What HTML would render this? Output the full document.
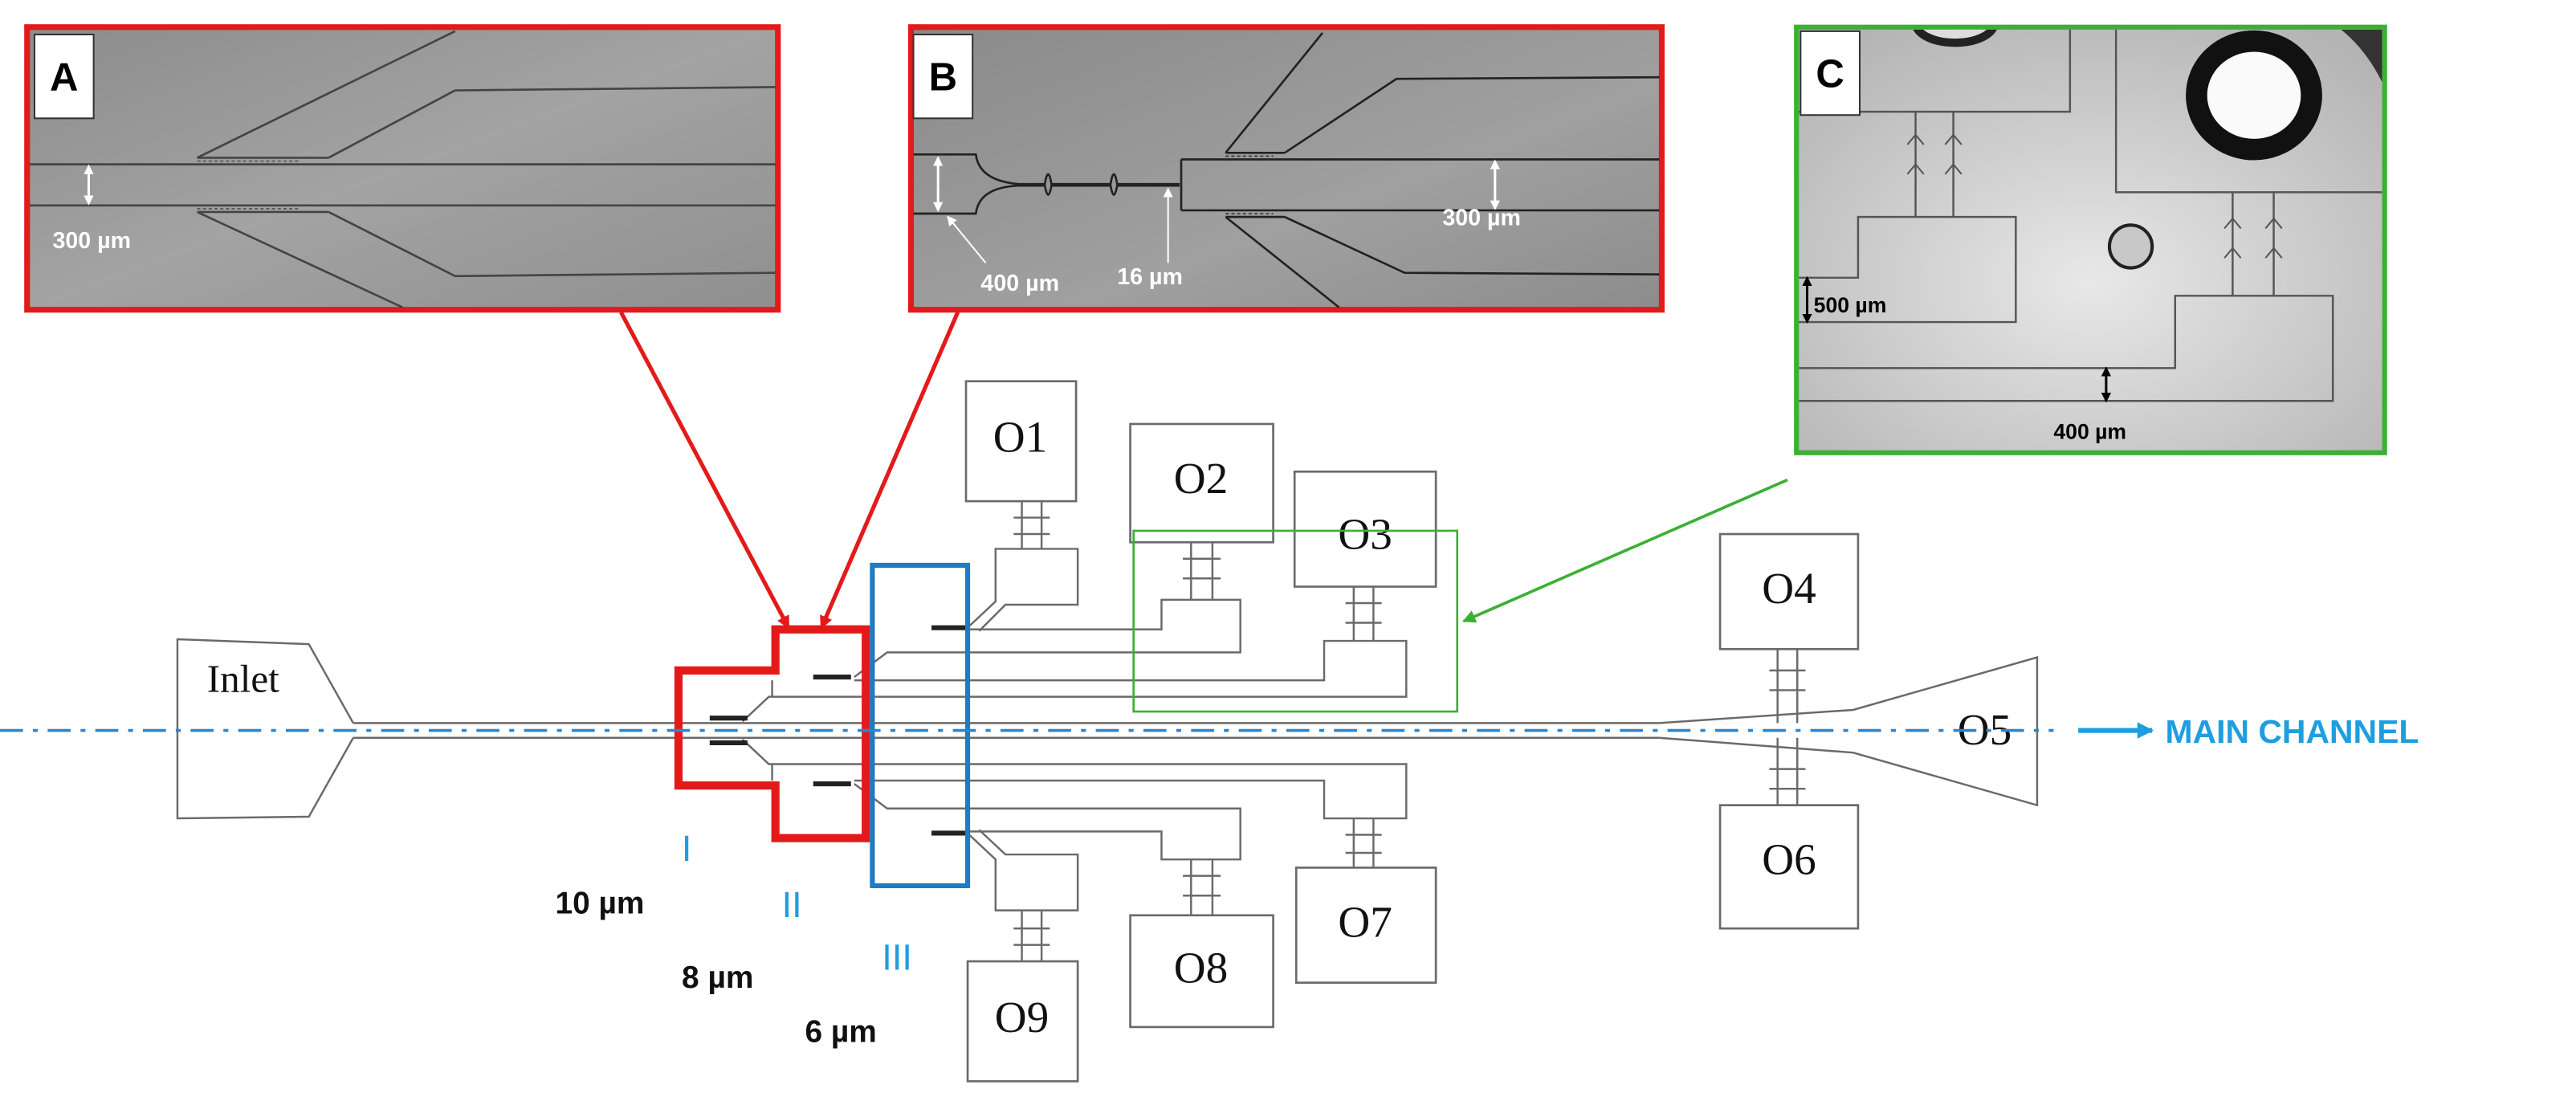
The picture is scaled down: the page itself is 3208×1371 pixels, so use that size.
<!DOCTYPE html>
<html><head><meta charset="utf-8"><style>
html,body{margin:0;padding:0;background:#fff;}
svg{display:block;}
</style></head><body>
<svg width="3208" height="1371" viewBox="0 0 1568 670" preserveAspectRatio="none" xmlns="http://www.w3.org/2000/svg">
<defs>
<linearGradient id="ga" x1="0" y1="0" x2="1" y2="1"><stop offset="0" stop-color="#8c8c8c"/><stop offset="0.5" stop-color="#a3a3a3"/><stop offset="1" stop-color="#8f8f8f"/></linearGradient>
<linearGradient id="gb" x1="0" y1="0" x2="1" y2="1"><stop offset="0" stop-color="#8a8a8a"/><stop offset="0.6" stop-color="#a0a0a0"/><stop offset="1" stop-color="#8c8c8c"/></linearGradient>
<radialGradient id="gc" cx="0.5" cy="0.6" r="0.7"><stop offset="0" stop-color="#e8e8e8"/><stop offset="1" stop-color="#b4b4b4"/></radialGradient>
<clipPath id="cc"><rect x="1095" y="18" width="355" height="256"/></clipPath>
<marker id="ar" markerWidth="8" markerHeight="8" refX="7" refY="4" orient="auto" markerUnits="userSpaceOnUse"><path d="M0,0 L8,4 L0,8 Z" fill="#e41a1a"/></marker>
<marker id="agn" markerWidth="8" markerHeight="8" refX="7" refY="4" orient="auto" markerUnits="userSpaceOnUse"><path d="M0,0 L8,4 L0,8 Z" fill="#3cb034"/></marker>
<marker id="aw" markerWidth="6" markerHeight="6" refX="5" refY="3" orient="auto" markerUnits="userSpaceOnUse"><path d="M0,0 L6,3 L0,6 Z" fill="#fff"/></marker>
<marker id="ak" markerWidth="6" markerHeight="6" refX="5" refY="3" orient="auto" markerUnits="userSpaceOnUse"><path d="M0,0 L6,3 L0,6 Z" fill="#000"/></marker>
<marker id="abl" markerWidth="10" markerHeight="10" refX="9" refY="5" orient="auto" markerUnits="userSpaceOnUse"><path d="M0,0 L10,5 L0,10 Z" fill="#1e9ee0"/></marker>
</defs>

<!-- Panel A -->
<rect x="16.5" y="16.5" width="457" height="172" fill="url(#ga)" stroke="#e41a1a" stroke-width="3.5"/>
<g stroke="#444" stroke-width="1.3" fill="none">
<line x1="18" y1="100" x2="472" y2="100"/><line x1="18" y1="125" x2="472" y2="125"/>
<polyline points="120,96 277,19"/><polyline points="200,96 277,55 472,53"/>
<polyline points="120,129 245,187"/><polyline points="200,129 277,168 472,166"/>
<line x1="120" y1="96" x2="200" y2="96"/><line x1="120" y1="129" x2="200" y2="129"/>
</g>
<g stroke="#555" stroke-width="0.8" stroke-dasharray="2,1.5"><line x1="120" y1="98" x2="183" y2="98"/><line x1="120" y1="127" x2="183" y2="127"/></g>
<line x1="54" y1="113" x2="54" y2="101" stroke="#fff" stroke-width="1.5" marker-end="url(#aw)"/>
<line x1="54" y1="112" x2="54" y2="124" stroke="#fff" stroke-width="1.5" marker-end="url(#aw)"/>
<text x="32" y="151" font-family="Liberation Sans, sans-serif" font-weight="bold" font-size="14" fill="#fff">300 µm</text>
<rect x="21" y="21" width="36" height="51" fill="#fff" stroke="#333" stroke-width="1"/>
<text x="39" y="55" text-anchor="middle" font-family="Liberation Sans, sans-serif" font-weight="bold" font-size="24">A</text>

<!-- Panel B -->
<rect x="554.5" y="16.5" width="457" height="172" fill="url(#gb)" stroke="#e41a1a" stroke-width="3.5"/>
<g stroke="#222" stroke-width="1.3" fill="none">
<path d="M556,94 L594,94 Q596,110 620,112 L636,112 Q638,100 640,112 L676,112 Q678,100 680,112 L718,112"/>
<path d="M556,130 L594,130 Q596,114 620,113 L636,113 Q638,124 640,113 L676,113 Q678,124 680,113 L718,113"/>
<line x1="719" y1="97" x2="719" y2="128"/>
<line x1="719" y1="97" x2="1010" y2="97"/><line x1="719" y1="128" x2="1010" y2="128"/>
<polyline points="746,93 805,20"/><polyline points="782,93 850,48 1010,47"/>
<polyline points="746,132 815,187"/><polyline points="782,132 855,166 1010,167"/>
<line x1="746" y1="93" x2="782" y2="93"/><line x1="746" y1="132" x2="782" y2="132"/>
</g>
<g stroke="#333" stroke-width="0.8" stroke-dasharray="2,1.5"><line x1="746" y1="95" x2="775" y2="95"/><line x1="746" y1="130" x2="775" y2="130"/></g>
<line x1="571" y1="112" x2="571" y2="96" stroke="#fff" stroke-width="1.5" marker-end="url(#aw)"/>
<line x1="571" y1="112" x2="571" y2="128" stroke="#fff" stroke-width="1.5" marker-end="url(#aw)"/>
<line x1="600" y1="160" x2="577" y2="132" stroke="#fff" stroke-width="1" marker-end="url(#aw)"/>
<line x1="711" y1="160" x2="711" y2="115" stroke="#fff" stroke-width="1" marker-end="url(#aw)"/>
<line x1="910" y1="112" x2="910" y2="98" stroke="#fff" stroke-width="1.5" marker-end="url(#aw)"/>
<line x1="910" y1="112" x2="910" y2="127" stroke="#fff" stroke-width="1.5" marker-end="url(#aw)"/>
<text x="597" y="177" font-family="Liberation Sans, sans-serif" font-weight="bold" font-size="14" fill="#fff">400 µm</text>
<text x="680" y="173" font-family="Liberation Sans, sans-serif" font-weight="bold" font-size="14" fill="#fff">16 µm</text>
<text x="878" y="137" font-family="Liberation Sans, sans-serif" font-weight="bold" font-size="14" fill="#fff">300 µm</text>
<rect x="556" y="21" width="36" height="51" fill="#fff" stroke="#333" stroke-width="1"/>
<text x="574" y="55" text-anchor="middle" font-family="Liberation Sans, sans-serif" font-weight="bold" font-size="24">B</text>

<!-- Panel C -->
<rect x="1093.5" y="16.5" width="358" height="259" fill="url(#gc)" stroke="#3cb034" stroke-width="3"/>
<g clip-path="url(#cc)">
<ellipse cx="1190" cy="14" rx="24" ry="12" fill="#ddd" stroke="#222" stroke-width="5"/>
<ellipse cx="1372" cy="58" rx="35" ry="33" fill="#fafafa" stroke="#111" stroke-width="13"/>
<path d="M1425,18 L1450,18 L1450,50 Q1440,30 1425,18 Z" fill="#333"/>
</g>
<ellipse cx="1297" cy="150" rx="13" ry="13" fill="#c8c8c8" stroke="#222" stroke-width="2"/>
<g stroke="#555" stroke-width="1.2" fill="none">
<polyline points="1095,68 1260,68 1260,18"/>
<polyline points="1288,18 1288,117 1450,117"/>
<polyline points="1095,169 1131,169 1131,132 1227,132 1227,196 1095,196"/>
<polyline points="1095,224 1324,224 1324,180 1420,180 1420,244 1095,244"/>
<line x1="1166" y1="68" x2="1166" y2="132"/><line x1="1189" y1="68" x2="1189" y2="132"/>
<line x1="1359" y1="117" x2="1359" y2="180"/><line x1="1384" y1="117" x2="1384" y2="180"/>
</g>
<g fill="none" stroke="#555" stroke-width="1">
<path d="M1161,88 L1166,82 L1171,88 M1184,88 L1189,82 L1194,88 M1161,106 L1166,100 L1171,106 M1184,106 L1189,100 L1194,106"/>
<path d="M1354,139 L1359,133 L1364,139 M1379,139 L1384,133 L1389,139 M1354,157 L1359,151 L1364,157 M1379,157 L1384,151 L1389,157"/>
</g>
<line x1="1100" y1="182" x2="1100" y2="169" stroke="#000" stroke-width="1.5" marker-end="url(#ak)"/>
<line x1="1100" y1="182" x2="1100" y2="196" stroke="#000" stroke-width="1.5" marker-end="url(#ak)"/>
<line x1="1282" y1="234" x2="1282" y2="224" stroke="#000" stroke-width="1.5" marker-end="url(#ak)"/>
<line x1="1282" y1="234" x2="1282" y2="244" stroke="#000" stroke-width="1.5" marker-end="url(#ak)"/>
<text x="1104" y="190" font-family="Liberation Sans, sans-serif" font-weight="bold" font-size="13">500 µm</text>
<text x="1250" y="267" font-family="Liberation Sans, sans-serif" font-weight="bold" font-size="13">400 µm</text>
<rect x="1096" y="19" width="36" height="51" fill="#fff" stroke="#333" stroke-width="1"/>
<text x="1114" y="53" text-anchor="middle" font-family="Liberation Sans, sans-serif" font-weight="bold" font-size="24">C</text>

<!-- pointer arrows -->
<line x1="378" y1="190" x2="480" y2="382" stroke="#e41a1a" stroke-width="2.5" marker-end="url(#ar)"/>
<line x1="583" y1="190" x2="500" y2="382" stroke="#e41a1a" stroke-width="2.5" marker-end="url(#ar)"/>
<line x1="1088" y1="292" x2="891" y2="378" stroke="#3cb034" stroke-width="1.8" marker-end="url(#agn)"/>

<!-- device -->
<g stroke="#6a6a6a" stroke-width="1.2" fill="none">
<path d="M215,440 L188,392 L108,389 L108,498 L188,497 L215,449"/>
<line x1="215" y1="440" x2="1010" y2="440"/><line x1="215" y1="449" x2="1010" y2="449"/>
<polyline points="1010,440 1128,432 1240,400 1240,490 1128,458 1010,449"/>
<polyline points="452,439 468,424 856,424 856,390 806,390 806,414 520,414"/>
<polyline points="520,412 540,397 755,397 755,365 707,365 707,383 590,383"/>
<polyline points="590,381 606,366 606,334 656,334 656,368 612,368 596,384"/>
<polyline points="452,450 468,465 856,465 856,498 806,498 806,475 520,475"/>
<polyline points="520,477 540,492 755,492 755,523 707,523 707,506 590,506"/>
<polyline points="590,508 606,523 606,554 656,554 656,520 612,520 596,505"/>
<polyline points="470,414 470,424"/><polyline points="470,465 470,475"/>
</g>
<g stroke="#222" stroke-width="3">
<line x1="432" y1="437" x2="455" y2="437"/><line x1="432" y1="452" x2="455" y2="452"/>
<line x1="495" y1="412" x2="518" y2="412"/><line x1="495" y1="477" x2="518" y2="477"/>
<line x1="567" y1="382" x2="590" y2="382"/><line x1="567" y1="507" x2="590" y2="507"/>
</g>
<!-- connectors -->
<g stroke="#6a6a6a" stroke-width="1.2" fill="none">
<path d="M622,305 V334 M634,305 V334 M725,330 V365 M738,330 V365 M824,357 V390 M836,357 V390 M1082,395 V440 M1094,395 V440 M1082,449 V490 M1094,449 V490 M824,498 V528 M836,498 V528 M725,523 V557 M738,523 V557 M622,554 V585 M634,554 V585"/>
<path d="M617,315 H639 M617,325 H639 M720,340 H743 M720,352 H743 M819,367 H841 M819,379 H841 M1077,408 H1099 M1077,420 H1099 M1077,468 H1099 M1077,480 H1099 M819,508 H841 M819,519 H841 M720,533 H743 M720,545 H743 M617,565 H639 M617,575 H639"/>
</g>
<!-- O boxes -->
<g stroke="#6a6a6a" stroke-width="1.3" fill="#fff">
<rect x="588" y="232" width="67" height="73"/>
<rect x="688" y="258" width="87" height="72"/>
<rect x="788" y="287" width="86" height="70"/>
<rect x="1047" y="325" width="84" height="70"/>
<rect x="1047" y="490" width="84" height="75"/>
<rect x="789" y="528" width="85" height="70"/>
<rect x="688" y="557" width="87" height="68"/>
<rect x="589" y="585" width="67" height="73"/>
</g>
<g font-family="Liberation Serif, serif" font-size="27" text-anchor="middle" fill="#111">
<text x="621" y="275">O1</text><text x="731" y="300">O2</text><text x="831" y="334">O3</text>
<text x="1089" y="367">O4</text><text x="1089" y="532">O6</text><text x="831" y="570">O7</text>
<text x="731" y="598">O8</text><text x="622" y="628">O9</text><text x="1208" y="453">O5</text>
<text x="148" y="421" font-size="24">Inlet</text>
</g>
<!-- region boxes -->
<path d="M472,383 H527 V510 H472 V478 H413 V408 H472 Z" fill="none" stroke="#e41a1a" stroke-width="5"/>
<rect x="531" y="344" width="58" height="195" fill="none" stroke="#1e7bc4" stroke-width="3"/>
<rect x="690" y="323" width="197" height="110" fill="none" stroke="#3cb034" stroke-width="1.3"/>
<!-- axis -->
<line x1="0" y1="444.5" x2="1250" y2="444.5" stroke="#2a86cf" stroke-width="1.8" stroke-dasharray="14,6,3,6"/>
<line x1="1265" y1="444.5" x2="1310" y2="444.5" stroke="#1e9ee0" stroke-width="3" marker-end="url(#abl)"/>
<text x="1318" y="452" font-family="Liberation Sans, sans-serif" font-weight="bold" font-size="20" fill="#1e9ee0">MAIN CHANNEL</text>
<g font-family="Liberation Sans, sans-serif" font-size="22" fill="#1e9ee0">
<text x="418" y="524" text-anchor="middle">I</text>
<text x="482" y="558" text-anchor="middle">II</text>
<text x="546" y="590" text-anchor="middle">III</text>
</g>
<g font-family="Liberation Sans, sans-serif" font-weight="bold" font-size="19" fill="#111">
<text x="338" y="556">10 µm</text>
<text x="415" y="601">8 µm</text>
<text x="490" y="634">6 µm</text>
</g>
</svg>
</body></html>
